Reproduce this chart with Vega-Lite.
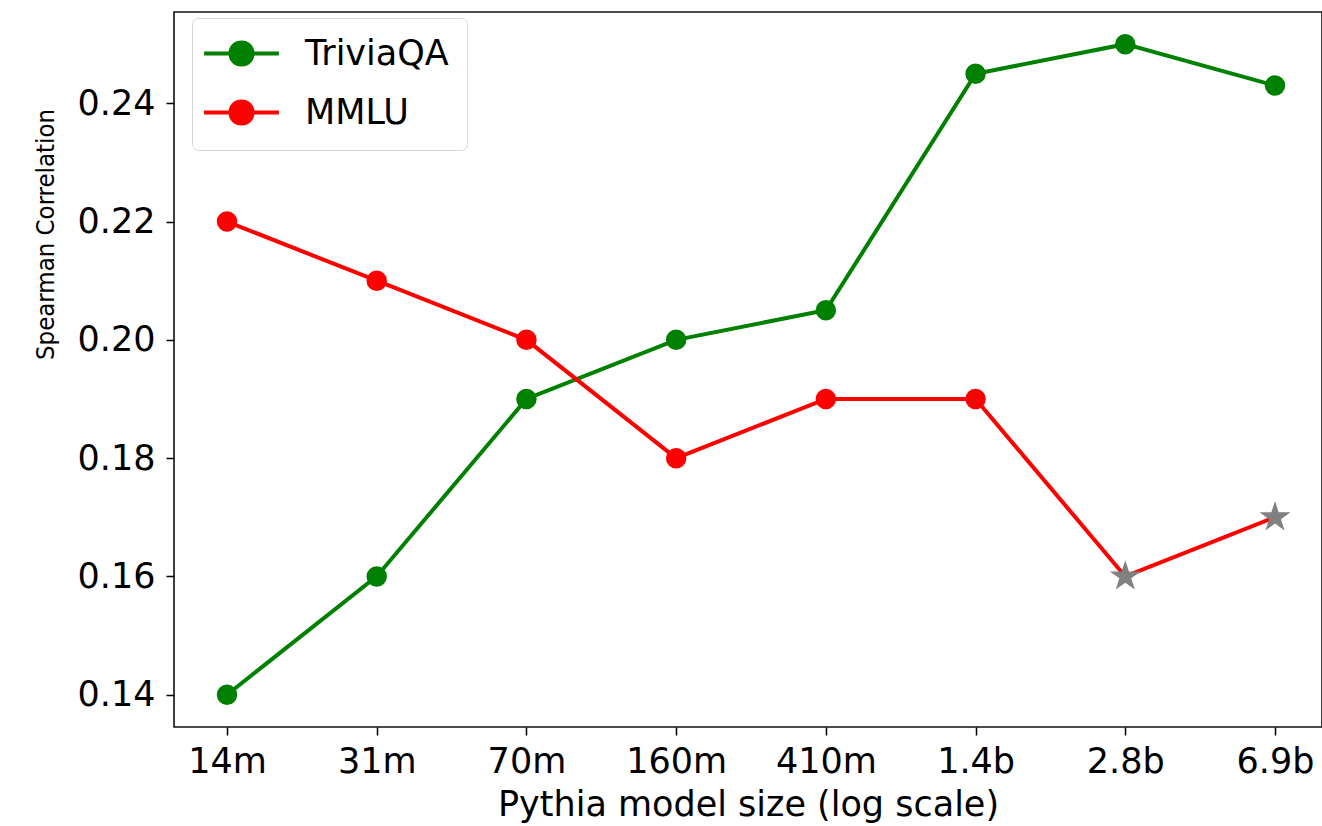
{
  "$schema": "https://vega.github.io/schema/vega-lite/v6.json",
  "width": 1148,
  "height": 715,
  "autosize": {"type": "none"},
  "padding": {"left": 174, "top": 12, "right": 0, "bottom": 99},
  "background": "white",
  "config": {
    "view": {"stroke": "#111111", "strokeWidth": 1.6},
    "axis": {
      "labelFont": "DejaVu Sans",
      "labelFontSize": 35,
      "labelColor": "black",
      "titleFont": "DejaVu Sans",
      "titleFontSize": 35,
      "titleFontWeight": "normal",
      "titleColor": "black",
      "tickColor": "black",
      "tickWidth": 1.5,
      "tickSize": 8,
      "grid": false,
      "domain": false
    }
  },
  "data": {
    "values": [
      {"model": "14m", "benchmark": "TriviaQA", "corr": 0.14},
      {"model": "31m", "benchmark": "TriviaQA", "corr": 0.16},
      {"model": "70m", "benchmark": "TriviaQA", "corr": 0.19},
      {"model": "160m", "benchmark": "TriviaQA", "corr": 0.20},
      {"model": "410m", "benchmark": "TriviaQA", "corr": 0.205},
      {"model": "1.4b", "benchmark": "TriviaQA", "corr": 0.245},
      {"model": "2.8b", "benchmark": "TriviaQA", "corr": 0.25},
      {"model": "6.9b", "benchmark": "TriviaQA", "corr": 0.243},
      {"model": "14m", "benchmark": "MMLU", "corr": 0.22},
      {"model": "31m", "benchmark": "MMLU", "corr": 0.21},
      {"model": "70m", "benchmark": "MMLU", "corr": 0.20},
      {"model": "160m", "benchmark": "MMLU", "corr": 0.18},
      {"model": "410m", "benchmark": "MMLU", "corr": 0.19},
      {"model": "1.4b", "benchmark": "MMLU", "corr": 0.19},
      {"model": "2.8b", "benchmark": "MMLU", "corr": 0.16},
      {"model": "6.9b", "benchmark": "MMLU", "corr": 0.17}
    ]
  },
  "encoding": {
    "x": {
      "field": "model",
      "type": "ordinal",
      "sort": ["14m", "31m", "70m", "160m", "410m", "1.4b", "2.8b", "6.9b"],
      "scale": {"type": "point", "padding": 0.334, "align": 0.53},
      "axis": {"labelAngle": 0, "labelPadding": 9, "title": "Pythia model size (log scale)", "titlePadding": 8}
    },
    "y": {
      "field": "corr",
      "type": "quantitative",
      "scale": {"domain": [0.13454, 0.25544], "nice": false, "zero": false},
      "axis": {
        "values": [0.14, 0.16, 0.18, 0.20, 0.22, 0.24],
        "format": ".2f",
        "labelPadding": 11,
        "title": "Spearman Correlation",
        "titleFont": "Liberation Sans Narrow, DejaVu Sans Condensed, sans-serif",
        "titleFontSize": 25.5,
        "titleAngle": -90,
        "titleX": -129,
        "titleY": 222,
        "titleAlign": "center",
        "titleBaseline": "middle"
      }
    }
  },
  "layer": [
    {
      "mark": {"type": "line", "strokeWidth": 4},
      "encoding": {
        "color": {
          "field": "benchmark",
          "type": "nominal",
          "scale": {"domain": ["TriviaQA", "MMLU"], "range": ["#008000", "#ff0000"]},
          "legend": {
            "orient": "none",
            "legendX": 18,
            "legendY": 6,
            "title": null,
            "symbolType": "M-3.4,0L3.4,0M-1,0C-1,-1.33 1,-1.33 1,0C1,1.33 -1,1.33 -1,0Z",
            "symbolSize": 484,
            "symbolStrokeWidth": 4,
            "symbolOffset": 14,
            "labelOffset": 46,
            "labelFont": "DejaVu Sans",
            "labelFontSize": 35,
            "labelColor": "black",
            "padding": 18,
            "rowPadding": 20,
            "strokeColor": "#d5d5d5",
            "fillColor": "white",
            "cornerRadius": 6,
            "encode": {
              "symbols": {
                "update": {
                  "fill": {"scale": "color", "field": "value"},
                  "stroke": {"scale": "color", "field": "value"},
                  "strokeWidth": {"value": 4},
                  "opacity": {"value": 1}
                }
              }
            }
          }
        }
      }
    },
    {
      "transform": [{"filter": "datum.benchmark == 'TriviaQA' || (datum.model != '2.8b' && datum.model != '6.9b')"}],
      "mark": {"type": "point", "shape": "circle", "filled": true, "size": 420, "opacity": 1},
      "encoding": {
        "color": {"field": "benchmark", "type": "nominal", "legend": null}
      }
    },
    {
      "transform": [{"filter": "datum.benchmark == 'MMLU' && (datum.model == '2.8b' || datum.model == '6.9b')"}],
      "mark": {
        "type": "point",
        "shape": "M0,-1L0.2245,-0.309L0.9511,-0.309L0.3633,0.118L0.5878,0.809L0,0.382L-0.5878,0.809L-0.3633,0.118L-0.9511,-0.309L-0.2245,-0.309Z",
        "filled": true,
        "size": 1060,
        "color": "#808080",
        "opacity": 1
      }
    }
  ]
}
